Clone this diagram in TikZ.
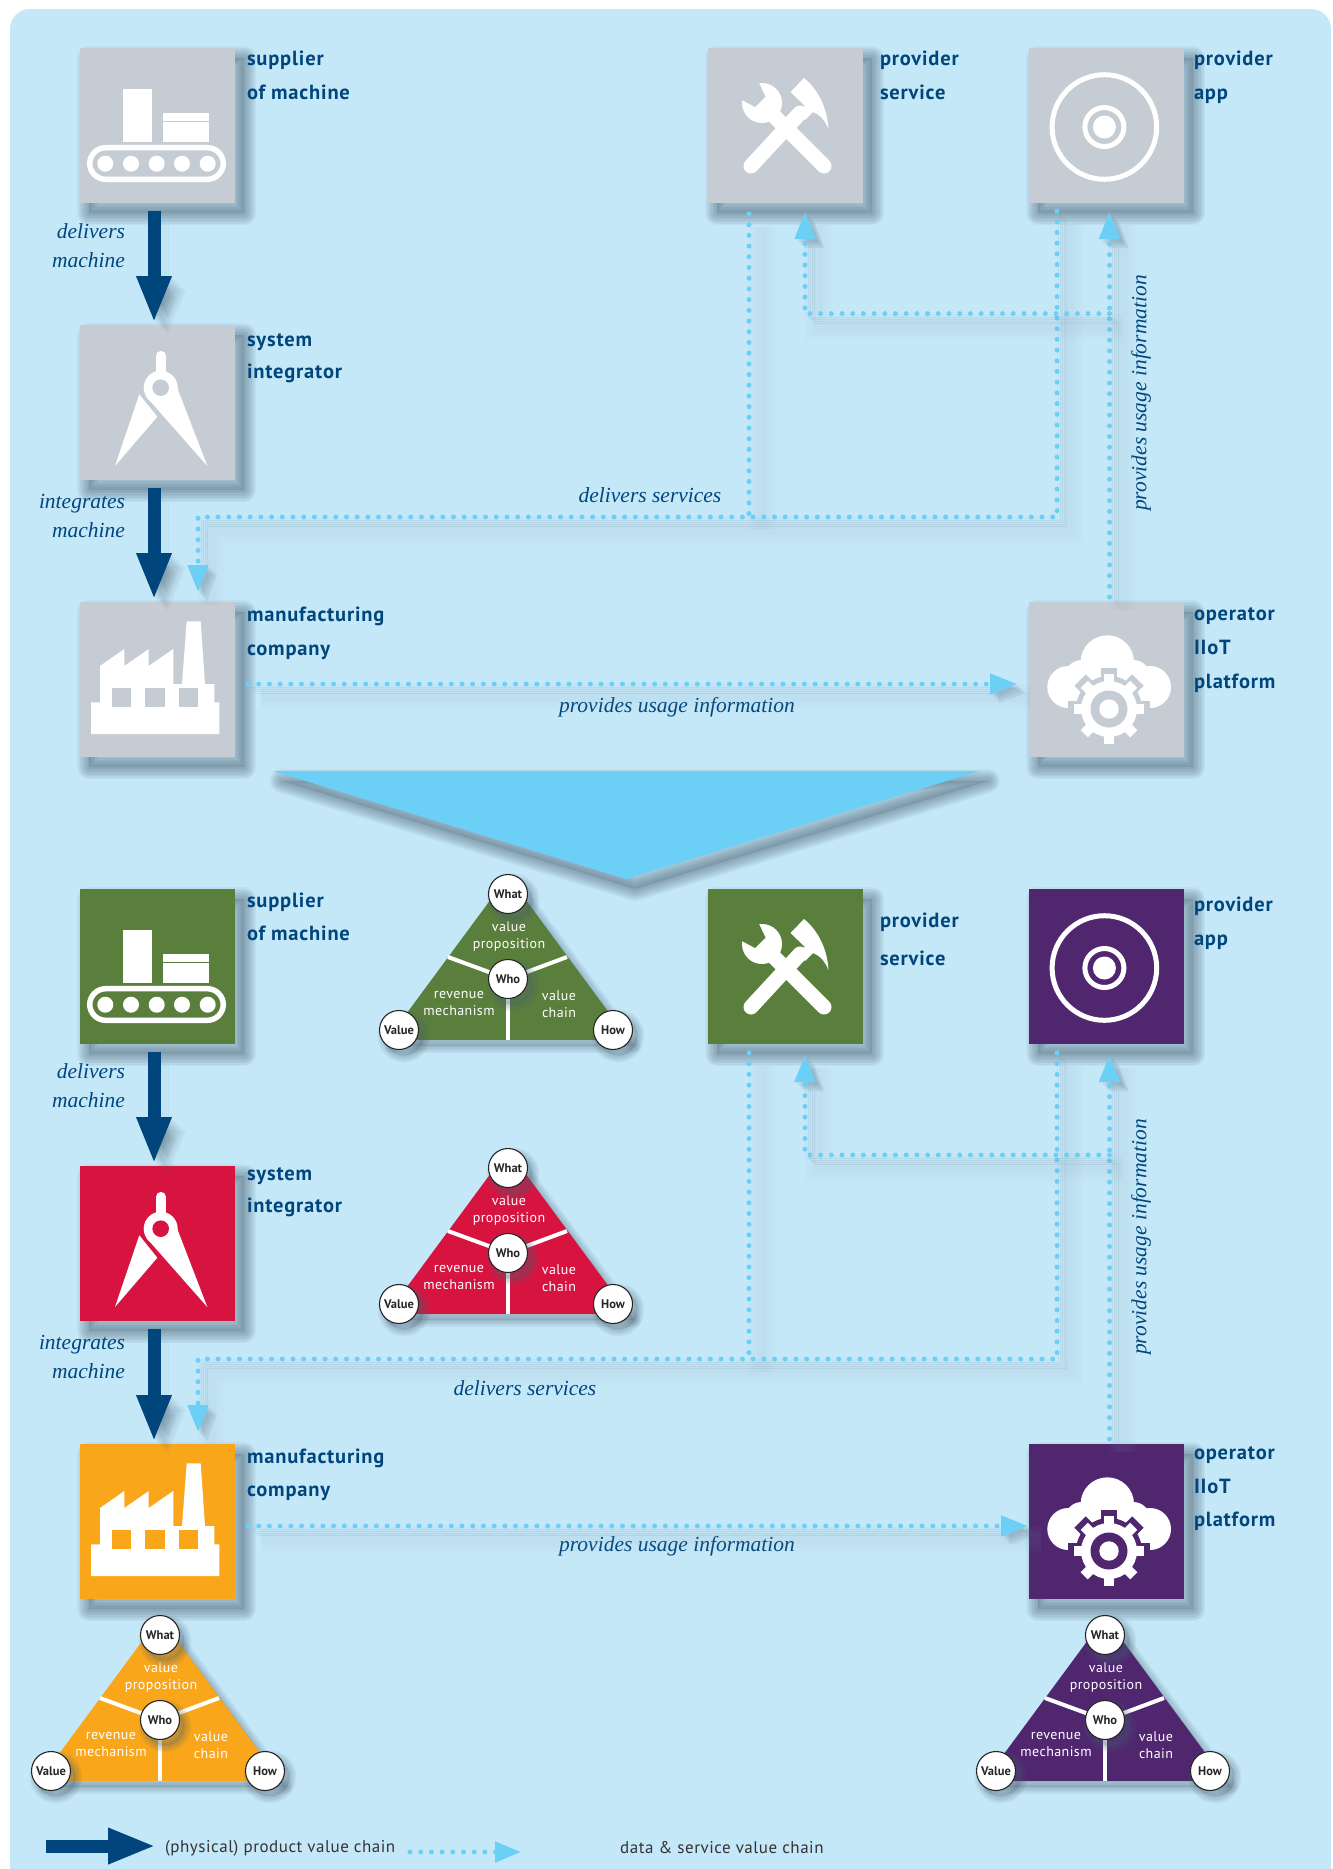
\documentclass[tikz,border=0pt]{standalone}
\usepackage{fontspec}
\setmainfont{Liberation Serif}
\newfontfamily\din{PT Sans}
\newfontfamily\dinlab[LetterSpace=4]{PT Sans}
\newfontfamily\dinsp[LetterSpace=3]{PT Sans}
\usetikzlibrary{arrows.meta,shapes.geometric}
\definecolor{panel}{HTML}{C5E8F9}
\definecolor{greybox}{HTML}{C5CCD3}
\definecolor{navy}{HTML}{00467C}
\definecolor{lightb}{HTML}{6CCFF6}
\definecolor{greenb}{HTML}{5A7F3C}
\definecolor{redb}{HTML}{D71440}
\definecolor{orangeb}{HTML}{FAA61A}
\definecolor{purpleb}{HTML}{50276F}
\definecolor{shline}{HTML}{8AA6B8}
\definecolor{shc}{HTML}{4A6070}
\tikzset{
  sfill/.style n args={2}{preaction={fill=shc,fill opacity=.2,transform canvas={xshift=#1,yshift=-#2}}},
  sring/.style n args={3}{preaction={draw=shc,draw opacity=.07,line join=round,line width=#3,transform canvas={xshift=#1,yshift=-#2}}},
  softsh/.style={sring={9pt}{10pt}{24pt},sring={9pt}{10pt}{21pt},sring={9pt}{10pt}{18pt},sring={9pt}{10pt}{15pt},sring={9pt}{10pt}{12pt},sring={9pt}{10pt}{9pt},sring={9pt}{10pt}{6pt},sring={9pt}{10pt}{3pt},sfill={9pt}{10pt}},
  softsm/.style={sring={5pt}{6pt}{14pt},sring={5pt}{6pt}{11pt},sring={5pt}{6pt}{8pt},sring={5pt}{6pt}{5pt},sring={5pt}{6pt}{2pt},sfill={5pt}{6pt}},
  iconbox/.style={minimum size=155pt,inner sep=0pt,outer sep=0pt,anchor=north west,softsh},
  lab/.style={anchor=north west,inner sep=0pt,outer sep=0pt,align=left,text=navy,font=\dinlab\bfseries\fontsize{20.5}{#1}\selectfont},
  ital/.style={inner sep=0pt,outer sep=0pt,text=navy,font=\itshape\fontsize{21.5}{29}\selectfont},
  itlab/.style={ital,anchor=east,align=right},
  legtext/.style={anchor=west,inner sep=0pt,text=black!80,font=\dinsp\fontsize{17}{18}\selectfont},
  shstep/.style={preaction={draw=shline,draw opacity=.035,line cap=butt,line width=#1,arrows=-,solid,transform canvas={xshift=13pt,yshift=-13pt}}},
  tipsh/.style={preaction={draw=shc,opacity=.09,line width=.1pt,solid,-{Triangle[length=27pt,width=20pt]},transform canvas={xshift=#1,yshift=-#1}}},
  dotted plain/.style={draw=lightb,line width=5pt,line cap=round,dash pattern=on 0pt off 10.7pt,shstep=26pt,shstep=18pt,shstep=10pt},
  dotted link/.style={dotted plain,tipsh=3pt,tipsh=5pt,tipsh=7pt,tipsh=9pt,-{Triangle[length=27pt,width=20pt]}},
  hsh/.style={preaction={draw=shc,opacity=.06,-{Triangle[length=47pt,width=32pt]},transform canvas={xshift=#1,yshift=-#1}}},
  navy link/.style={draw=navy,line width=13pt,hsh=2pt,hsh=4pt,hsh=6pt,hsh=8pt,hsh=10pt,hsh=12pt,hsh=14pt,-{Triangle[length=47pt,width=32pt]}},
  tricirc/.style={circle,draw=black!85,line width=1.1pt,fill=white,minimum size=39pt,inner sep=0pt,text=black!85,font=\din\bfseries\fontsize{12.5}{14}\selectfont,softsm},
  tritext/.style={text=white,inner sep=0pt,align=center,font=\dinsp\fontsize{14}{17}\selectfont},
}
\newcommand\iconbelt[3]{\begin{scope}[shift={(#1,#2)}]
  \fill[white] (43.3,41) rectangle (72,94);
  \fill[white] (83,65) rectangle (129,94);
  \draw[#3,line width=1pt] (83,73) -- (129,73);
  \draw[white,line width=5.5pt,rounded corners=16pt] (9.7,99.7) rectangle (143.3,131.3);
  \foreach \cx in {25.3,51,76.7,102,127.7} \fill[white] (\cx,115.7) circle[radius=8pt];
\end{scope}}
\newcommand\iconcompass[3]{\begin{scope}[shift={(#1,#2)}]
  \draw[white,line width=10.3pt,line cap=round] (80.9,31) -- (80.9,50);
  \fill[white] (92.5,50.5) -- (127.3,141) -- (66.5,72) -- cycle;
  \fill[white] (80.7,62.7) circle[radius=17pt];
  \fill[#3] (80.7,62.7) circle[radius=8.3pt];
  \fill[white] (59.3,69.3) -- (35,141) -- (77.3,91.7) -- cycle;
\end{scope}}
\newcommand\iconfactory[3]{\begin{scope}[shift={(#1,#2)}]
  \fill[white] (11,132) -- (11,100.3) -- (20,100.3) -- (20,64) -- (44.3,47) -- (44.3,64) -- (68.7,47) -- (68.7,64) -- (93.3,47) -- (93.3,82) -- (102,82) -- (106.7,19.3) -- (120.7,19.3) -- (125,82) -- (134.3,82) -- (134.3,100.3) -- (139.3,100.3) -- (139.3,132) -- cycle;
  \foreach \wx in {32,65.3,99} \fill[#3] (\wx,86.3) rectangle ++(19.3,18.7);
\end{scope}}
\newcommand\icontools[3]{\begin{scope}[shift={(#1,#2)}]
  \fill[white] (54,55) circle[radius=20pt];
  \fill[#3] (57.5,48.6) -- (47,59) -- (21,45) -- (21,21) -- (44.5,21.4) -- cycle;
  \draw[white,line width=15pt,line cap=round] (116,118) -- (60,62);
  \draw[white,line width=15pt,line cap=round] (43,118) -- (92,65);
  \fill[white] (82.5,44) -- (96,30) .. controls (106,38) and (119,55) .. (120.5,81) .. controls (117,72) and (111,66) .. (105,64) -- (97,72) -- (90,62) -- (97,58) -- cycle;
\end{scope}}
\newcommand\icondisc[3]{\begin{scope}[shift={(#1,#2)}]
  \draw[white,line width=5pt] (75.4,79) circle[radius=52.3pt];
  \draw[white,line width=5pt] (75.4,79) circle[radius=19.5pt];
  \fill[white] (75.4,79) circle[radius=11.5pt];
\end{scope}}
\newcommand\iconcloud[3]{\begin{scope}[shift={(#1,#2)}]
  \fill[white] (78.3,60) circle[radius=26.7pt];
  \fill[white] (39.3,85) circle[radius=21pt];
  \fill[white] (121,85) circle[radius=21pt];
  \fill[white] (52.7,75) circle[radius=17pt];
  \fill[white] (104.3,75) circle[radius=17pt];
  \fill[white] (39.3,70) rectangle (121,106);
  \fill[#3] (80,107) circle[radius=33pt];
  \foreach \ang in {0,45,...,315} \fill[#3,rotate around={\ang:(80,107)}] (72,66) rectangle (88,107);
  \fill[white] (80,107) circle[radius=28pt];
  \foreach \ang in {0,45,...,315} \fill[white,rotate around={\ang:(80,107)}] (75,72) rectangle (85,107);
  \fill[#3] (80,107) circle[radius=18.5pt];
  \fill[white] (80,107) circle[radius=9.7pt];
\end{scope}}
\newcommand\bmtri[4]{\begin{scope}[shift={(#2,#3)}]
  \path[fill=#4,softsm] (0,-103) -- (-121,61) -- (121,61) -- cycle;
  \coordinate (#1-c) at (0,0);
  \coordinate (#1-l) at (-60,-22);
  \coordinate (#1-r) at (59,-22);
  \coordinate (#1-b) at (0,61);
  \node[tritext] (#1-vp) at (1,-43) {value\\proposition};
  \node[tritext] (#1-rm) at (-49,24) {revenue\\mechanism};
  \node[tritext] (#1-vc) at (51,25) {value\\chain};
  \draw[white,line width=4pt] (#1-c) -- (#1-l);
  \draw[white,line width=4pt] (#1-c) -- (#1-r);
  \draw[white,line width=4pt] (#1-c) -- (#1-b);
  \node[tricirc] (#1-who) at (0,0) {Who};
  \node[tricirc] (#1-what) at (0,-85) {What};
  \node[tricirc] (#1-value) at (-109,51) {Value};
  \node[tricirc] (#1-how) at (105,51) {How};
\end{scope}}
\begin{document}
\begin{tikzpicture}[x=1pt,y=-1pt]
\useasboundingbox (0,0) rectangle (1333,1869);
\fill[panel,rounded corners=20pt] (10,9) rectangle (1331,1900);
% ---- upper part
\node[iconbox,fill=greybox] (sup) at (80,48) {};
\node[iconbox,fill=greybox] (sys) at (80,325) {};
\node[iconbox,fill=greybox] (mfg) at (80,602) {};
\node[iconbox,fill=greybox] (svc) at (708,48) {};
\node[iconbox,fill=greybox] (app) at (1029,48) {};
\node[iconbox,fill=greybox] (opr) at (1029,602) {};
\iconbelt{80}{48}{greybox}
\iconcompass{80}{325}{greybox}
\iconfactory{80}{602}{greybox}
\icontools{708}{48}{greybox}
\icondisc{1029}{48}{greybox}
\iconcloud{1029}{602}{greybox}
\node[lab=34] (l1) at (247,51) {supplier\\of machine};
\node[lab=32] (l2) at (247,334) {system\\integrator};
\node[lab=34] (l3) at (247,607) {manufacturing\\company};
\node[lab=34] (l4) at (880,51) {provider\\service};
\node[lab=34] (l5) at (1194,51) {provider\\app};
\node[lab=34] (l6) at (1194,608) {operator\\IIoT\\platform};
\node[itlab] (t1) at (125,245.5) {delivers\\machine};
\node[itlab] (t2) at (125,515.5) {integrates\\machine};
\node[ital] (t3) at (650,495) {delivers services};
\node[ital] (t4) at (677,707) {provides usage information};
\node[ital,rotate=90] (t5) at (1141,393) {provides usage information};
\draw[navy link] ([xshift=-3.5pt,yshift=-8pt]sup.south) -- ([xshift=-3.5pt,yshift=2pt]sys.north);
\draw[navy link] ([xshift=-3.5pt,yshift=-8pt]sys.south) -- ([xshift=-3.5pt,yshift=2pt]mfg.north);
\coordinate (c1) at (749,517);
\coordinate (c2) at (1057,517);
\coordinate (c3) at (198,517);
\coordinate (c4) at (1109.5,313.6);
\coordinate (c5) at (805,313.6);
\draw[dotted plain] ([xshift=-36.5pt,yshift=-11pt]svc.south) -- (c1);
\draw[dotted link] ([xshift=-49.5pt,yshift=-8pt]app.south) -- (c2) -- (c3) -- ([xshift=40.5pt,yshift=10pt]mfg.north);
\draw[dotted link] ([xshift=3pt,yshift=5pt]opr.north) -- ([xshift=3pt,yshift=-9pt]app.south);
\draw[dotted link] (c4) -- (c5) -- ([xshift=19.5pt,yshift=-9pt]svc.south);
\draw[dotted link] ([xshift=13pt,yshift=-4.5pt]mfg.east) -- ([xshift=-12pt,yshift=-4.5pt]opr.west);
% ---- big triangle
\path[fill=lightb,softsh] (273,771) -- (979,771) -- (626,879) -- cycle;
% ---- lower part
\node[iconbox,fill=greenb] (sup2) at (80,889) {};
\node[iconbox,fill=redb] (sys2) at (80,1166) {};
\node[iconbox,fill=orangeb] (mfg2) at (80,1444) {};
\node[iconbox,fill=greenb] (svc2) at (708,889) {};
\node[iconbox,fill=purpleb] (app2) at (1029,889) {};
\node[iconbox,fill=purpleb] (opr2) at (1029,1444) {};
\iconbelt{80}{889}{greenb}
\iconcompass{80}{1166}{redb}
\iconfactory{80}{1444}{orangeb}
\icontools{708}{889}{greenb}
\icondisc{1029}{889}{purpleb}
\iconcloud{1029}{1444}{purpleb}
\node[lab=33] (m1) at (247,893) {supplier\\of machine};
\node[lab=32] (m2) at (247,1168) {system\\integrator};
\node[lab=33] (m3) at (247,1449) {manufacturing\\company};
\node[lab=38] (m4) at (880,913) {provider\\service};
\node[lab=34] (m5) at (1194,897) {provider\\app};
\node[lab=33.5] (m6) at (1194,1447) {operator\\IIoT\\platform};
\node[itlab] (n1) at (125,1085.5) {delivers\\machine};
\node[itlab] (n2) at (125,1356.5) {integrates\\machine};
\node[ital] (n3) at (525,1388) {delivers services};
\node[ital] (n4) at (677,1546) {provides usage information};
\node[ital,rotate=90] (n5) at (1141,1237) {provides usage information};
\draw[navy link] ([xshift=-3.5pt,yshift=-8pt]sup2.south) -- ([xshift=-3.5pt,yshift=2pt]sys2.north);
\draw[navy link] ([xshift=-3.5pt,yshift=-8pt]sys2.south) -- ([xshift=-3.5pt,yshift=2pt]mfg2.north);
\coordinate (d1) at (749,1359);
\coordinate (d2) at (1057,1359);
\coordinate (d3) at (198,1359);
\coordinate (d4) at (1109.5,1155);
\coordinate (d5) at (805,1155);
\draw[dotted plain] ([xshift=-36.5pt,yshift=-9pt]svc2.south) -- (d1);
\draw[dotted link] ([xshift=-49.5pt,yshift=-9pt]app2.south) -- (d2) -- (d3) -- ([xshift=40.5pt,yshift=12pt]mfg2.north);
\draw[dotted link] ([xshift=3pt,yshift=5pt]opr2.north) -- ([xshift=3pt,yshift=-11pt]app2.south);
\draw[dotted link] (d4) -- (d5) -- ([xshift=19.5pt,yshift=-11pt]svc2.south);
\draw[dotted link] ([xshift=13pt,yshift=-4.5pt]mfg2.east) -- ([xshift=-1pt,yshift=-4.5pt]opr2.west);
% ---- triangles
\bmtri{ga}{508}{979}{greenb}
\bmtri{gb}{508}{1253}{redb}
\bmtri{gc}{160}{1720}{orangeb}
\bmtri{gd}{1105}{1720}{purpleb}
% ---- legend
\coordinate (k1) at (46,1846);
\coordinate (k2) at (156,1846);
\coordinate (k3) at (410,1852);
\coordinate (k4) at (521,1852);
\draw[draw=navy,line width=13pt,-{Triangle[length=48pt,width=33pt]}] (k1) -- (k2);
\draw[draw=lightb,line width=5pt,line cap=round,dash pattern=on 0pt off 10.7pt,-{Triangle[length=26pt,width=20pt]}] (k3) -- (k4);
\node[legtext] (k5) at (165,1848) {(physical) product value chain};
\node[legtext] (k6) at (620,1848) {data \& service value chain};
\end{tikzpicture}
\end{document}
